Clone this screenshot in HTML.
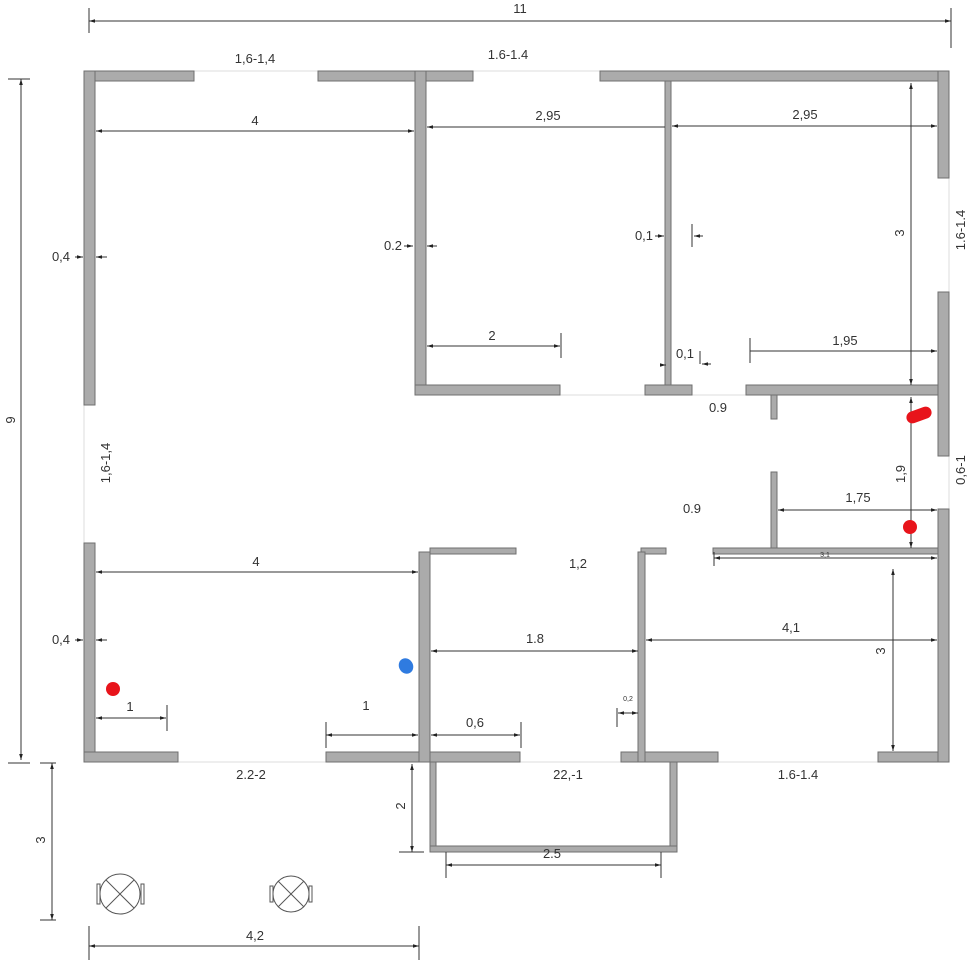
<!DOCTYPE html>
<html><head><meta charset="utf-8"><style>
html,body{margin:0;padding:0;background:#fff}
svg{display:block}
text{font-family:"Liberation Sans",sans-serif;font-size:13px;fill:#333}
.w{fill:#ababab;stroke:#6f6f6f;stroke-width:1}
.d{stroke:#333;stroke-width:1;fill:none}
.win{stroke:#ddd;stroke-width:1;fill:none}
</style></head><body>
<svg width="969" height="960" viewBox="0 0 969 960" xmlns="http://www.w3.org/2000/svg">
<defs>
<marker id="a" viewBox="0 0 10 10" refX="10" refY="5" markerWidth="6" markerHeight="6" orient="auto-start-reverse"><path d="M0,2 L10,5 L0,8z" fill="#222"/></marker>
</defs>
<!-- windows (thin lines) -->
<g class="win">
<line x1="194" y1="71" x2="318" y2="71"/><line x1="473" y1="71" x2="600" y2="71"/>
<line x1="949" y1="178" x2="949" y2="292"/><line x1="949" y1="456" x2="949" y2="509"/>
<line x1="84" y1="405" x2="84" y2="543"/><line x1="178" y1="762" x2="326" y2="762"/>
<line x1="520" y1="762" x2="621" y2="762"/><line x1="718" y1="762" x2="878" y2="762"/>
<line x1="560" y1="395" x2="645" y2="395"/><line x1="692" y1="395" x2="746" y2="395"/>
</g>
<!-- outer walls -->
<g class="w">
<rect x="84" y="71" width="110" height="10"/><rect x="318" y="71" width="155" height="10"/><rect x="600" y="71" width="349" height="10"/>
<rect x="84" y="71" width="11" height="334"/><rect x="84" y="543" width="11" height="219"/>
<rect x="84" y="752" width="94" height="10"/><rect x="326" y="752" width="194" height="10"/><rect x="621" y="752" width="97" height="10"/><rect x="878" y="752" width="71" height="10"/>
<rect x="938" y="71" width="11" height="107"/><rect x="938" y="292" width="11" height="164"/><rect x="938" y="509" width="11" height="253"/>
<!-- interior -->
<rect x="415" y="71" width="11" height="324"/>
<rect x="415" y="385" width="145" height="10"/><rect x="645" y="385" width="47" height="10"/><rect x="746" y="385" width="192" height="10"/>
<rect x="665" y="81" width="6" height="304"/>
<rect x="771" y="395" width="6" height="24"/><rect x="771" y="472" width="6" height="78"/>
<rect x="713" y="548" width="225" height="6"/><rect x="430" y="548" width="86" height="6"/><rect x="641" y="548" width="25" height="6"/>
<rect x="419" y="552" width="11" height="210"/><rect x="638" y="552" width="7" height="210"/>
<!-- balcony -->
<rect x="430" y="762" width="6" height="90"/><rect x="670" y="762" width="7" height="90"/><rect x="430" y="846" width="247" height="6"/>
</g>
<!-- dimension lines -->
<g class="d">
<line x1="89" y1="21" x2="951" y2="21" marker-start="url(#a)" marker-end="url(#a)"/><line x1="89" y1="8" x2="89" y2="33"/><line x1="951" y1="8" x2="951" y2="48"/>
<line x1="21" y1="79" x2="21" y2="760" marker-start="url(#a)" marker-end="url(#a)"/><line x1="8" y1="79" x2="30" y2="79"/><line x1="8" y1="763" x2="30" y2="763"/>
<line x1="52" y1="763" x2="52" y2="920" marker-start="url(#a)" marker-end="url(#a)"/><line x1="40" y1="763" x2="56" y2="763"/><line x1="40" y1="920" x2="56" y2="920"/>
<line x1="89" y1="946" x2="419" y2="946" marker-start="url(#a)" marker-end="url(#a)"/><line x1="89" y1="926" x2="89" y2="960"/><line x1="419" y1="926" x2="419" y2="960"/>
<line x1="96" y1="131" x2="414" y2="131" marker-start="url(#a)" marker-end="url(#a)"/>
<line x1="427" y1="127" x2="665" y2="127" marker-start="url(#a)"/>
<line x1="672" y1="126" x2="937" y2="126" marker-start="url(#a)" marker-end="url(#a)"/>
<line x1="911" y1="83" x2="911" y2="385" marker-start="url(#a)" marker-end="url(#a)"/>
<line x1="427" y1="346" x2="560" y2="346" marker-start="url(#a)" marker-end="url(#a)"/><line x1="561" y1="333" x2="561" y2="358"/>
<line x1="750" y1="351" x2="937" y2="351" marker-end="url(#a)"/><line x1="750" y1="338" x2="750" y2="363"/>
<line x1="75" y1="257" x2="83" y2="257" marker-end="url(#a)"/><line x1="96" y1="257" x2="107" y2="257" marker-start="url(#a)"/>
<line x1="404" y1="246" x2="413" y2="246" marker-end="url(#a)"/><line x1="427" y1="246" x2="437" y2="246" marker-start="url(#a)"/>
<line x1="655" y1="236" x2="664" y2="236" marker-end="url(#a)"/><line x1="692" y1="224" x2="692" y2="247"/><line x1="694" y1="236" x2="703" y2="236" marker-start="url(#a)"/>
<line x1="660" y1="365" x2="666" y2="365" marker-end="url(#a)"/><line x1="700" y1="351" x2="700" y2="364"/><line x1="702" y1="364" x2="711" y2="364" marker-start="url(#a)"/>
<line x1="911" y1="397" x2="911" y2="548" marker-start="url(#a)" marker-end="url(#a)"/>
<line x1="778" y1="510" x2="937" y2="510" marker-start="url(#a)" marker-end="url(#a)"/>
<line x1="714" y1="558" x2="937" y2="558" marker-start="url(#a)" marker-end="url(#a)"/><line x1="714" y1="552" x2="714" y2="566"/>
<line x1="96" y1="572" x2="418" y2="572" marker-start="url(#a)" marker-end="url(#a)"/>
<line x1="646" y1="640" x2="937" y2="640" marker-start="url(#a)" marker-end="url(#a)"/>
<line x1="431" y1="651" x2="638" y2="651" marker-start="url(#a)" marker-end="url(#a)"/>
<line x1="893" y1="569" x2="893" y2="751" marker-start="url(#a)" marker-end="url(#a)"/>
<line x1="75" y1="640" x2="83" y2="640" marker-end="url(#a)"/><line x1="96" y1="640" x2="107" y2="640" marker-start="url(#a)"/>
<line x1="96" y1="718" x2="166" y2="718" marker-start="url(#a)" marker-end="url(#a)"/><line x1="167" y1="705" x2="167" y2="731"/>
<line x1="326" y1="735" x2="418" y2="735" marker-start="url(#a)" marker-end="url(#a)"/><line x1="326" y1="722" x2="326" y2="748"/>
<line x1="431" y1="735" x2="520" y2="735" marker-start="url(#a)" marker-end="url(#a)"/><line x1="521" y1="722" x2="521" y2="748"/>
<line x1="617" y1="708" x2="617" y2="727"/><line x1="618" y1="713" x2="638" y2="713" marker-start="url(#a)" marker-end="url(#a)"/>
<line x1="412" y1="764" x2="412" y2="852" marker-start="url(#a)" marker-end="url(#a)"/><line x1="399" y1="852" x2="424" y2="852"/>
<line x1="446" y1="865" x2="661" y2="865" marker-start="url(#a)" marker-end="url(#a)"/><line x1="446" y1="852" x2="446" y2="878"/><line x1="661" y1="852" x2="661" y2="878"/>
</g>
<!-- furniture -->
<g stroke="#555" fill="none" stroke-width="1">
<circle cx="120" cy="894" r="20"/><line x1="106" y1="880" x2="134" y2="908"/><line x1="134" y1="880" x2="106" y2="908"/>
<rect x="97" y="884" width="3" height="20"/><rect x="141" y="884" width="3" height="20"/>
<circle cx="291" cy="894" r="18"/><line x1="278" y1="881" x2="304" y2="907"/><line x1="304" y1="881" x2="278" y2="907"/>
<rect x="270" y="886" width="3" height="16"/><rect x="309" y="886" width="3" height="16"/>
</g>
<!-- dots -->
<circle cx="113" cy="689" r="7" fill="#e8141b"/>
<ellipse cx="406" cy="666" rx="7" ry="8" fill="#2f7be0" transform="rotate(-30 406 666)"/>
<circle cx="910" cy="527" r="7" fill="#e8141b"/>
<rect x="906" y="409" width="26" height="12" rx="6" fill="#e8141b" transform="rotate(-20 919 415)"/>
<!-- labels -->
<text x="520" y="13" text-anchor="middle">11</text>
<text x="255" y="63" text-anchor="middle">1,6-1,4</text>
<text x="508" y="59" text-anchor="middle">1.6-1.4</text>
<text x="255" y="125" text-anchor="middle">4</text>
<text x="548" y="120" text-anchor="middle">2,95</text>
<text x="805" y="119" text-anchor="middle">2,95</text>
<text x="61" y="261" text-anchor="middle">0,4</text>
<text x="393" y="250" text-anchor="middle">0.2</text>
<text x="644" y="240" text-anchor="middle">0,1</text>
<text x="492" y="340" text-anchor="middle">2</text>
<text x="685" y="358" text-anchor="middle">0,1</text>
<text x="845" y="345" text-anchor="middle">1,95</text>
<text x="718" y="412" text-anchor="middle">0.9</text>
<text x="692" y="513" text-anchor="middle">0.9</text>
<text x="578" y="568" text-anchor="middle">1,2</text>
<text x="858" y="502" text-anchor="middle">1,75</text>
<text x="825" y="557" text-anchor="middle" style="font-size:7px">3,1</text>
<text x="256" y="566" text-anchor="middle">4</text>
<text x="791" y="632" text-anchor="middle">4,1</text>
<text x="535" y="643" text-anchor="middle">1.8</text>
<text x="61" y="644" text-anchor="middle">0,4</text>
<text x="130" y="711" text-anchor="middle">1</text>
<text x="366" y="710" text-anchor="middle">1</text>
<text x="475" y="727" text-anchor="middle">0,6</text>
<text x="628" y="701" text-anchor="middle" style="font-size:7px">0,2</text>
<text x="251" y="779" text-anchor="middle">2.2-2</text>
<text x="568" y="779" text-anchor="middle">22,-1</text>
<text x="798" y="779" text-anchor="middle">1.6-1.4</text>
<text x="552" y="858" text-anchor="middle">2.5</text>
<text x="255" y="940" text-anchor="middle">4,2</text>
<text transform="translate(15 420) rotate(-90)" text-anchor="middle">9</text>
<text transform="translate(45 840) rotate(-90)" text-anchor="middle">3</text>
<text transform="translate(904 233) rotate(-90)" text-anchor="middle">3</text>
<text transform="translate(965 230) rotate(-90)" text-anchor="middle">1.6-1.4</text>
<text transform="translate(110 463) rotate(-90)" text-anchor="middle">1,6-1,4</text>
<text transform="translate(905 474) rotate(-90)" text-anchor="middle">1,9</text>
<text transform="translate(965 470) rotate(-90)" text-anchor="middle">0,6-1</text>
<text transform="translate(885 651) rotate(-90)" text-anchor="middle">3</text>
<text transform="translate(405 806) rotate(-90)" text-anchor="middle">2</text>
</svg>
</body></html>
